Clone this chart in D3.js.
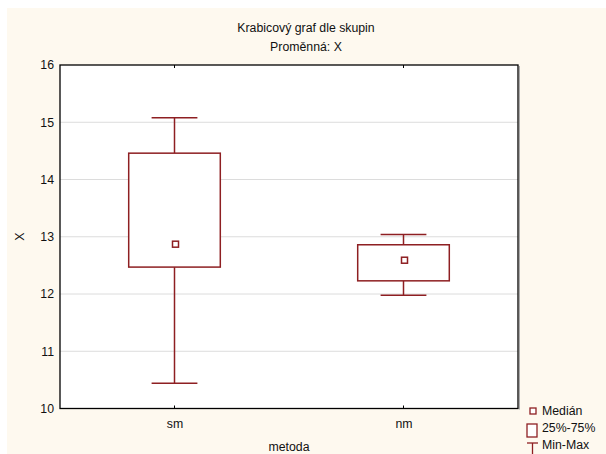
<!DOCTYPE html>
<html><head><meta charset="utf-8">
<script src="https://cdn.jsdelivr.net/npm/d3@7"></script>
<style>body{margin:0;background:#fff;}svg{display:block;font-family:"Liberation Sans",Arial,sans-serif;}</style>
</head><body>
<script>
const categories = ["sm", "nm"];
const mins    = [10.44, 11.98];
const q1s     = [12.47, 12.23];
const medians = [12.87, 12.59];
const q3s     = [14.46, 12.86];
const maxs    = [15.08, 13.04];
const yTicks  = [10, 11, 12, 13, 14, 15, 16];
const title = "Krabicový graf dle skupin";
const subtitle = "Proměnná: X";
const xLabel = "metoda";
const yLabel = "X";
const legendLabels = ["Medián", "25%-75%", "Min-Max"];

const W = 606, H = 454;
const FS = 12.3;
const boxColor = "#8e1f22";
const svg = d3.select("body").append("svg").attr("width", W).attr("height", H);
svg.append("rect").attr("x", 7).attr("y", 8).attr("width", W - 7).attr("height", H - 8).attr("fill", "#fef9ef");

const L = 60, R = 518, T = 65, B = 408.5;
const x = d3.scalePoint().domain(categories).range([L, R]).padding(0.5);
const y = d3.scaleLinear().domain([10, 16]).range([B, T]);
const step = x.step();

svg.append("rect").attr("x", L).attr("y", T).attr("width", R - L).attr("height", B - T).attr("fill", "#fff");

// gridlines
svg.append("g").selectAll("line").data(yTicks.filter(d => d > 10 && d < 16)).join("line")
  .attr("x1", L).attr("x2", R).attr("y1", d => y(d)).attr("y2", d => y(d))
  .attr("stroke", "#dcdcdc").attr("stroke-width", 1);

// y axis labels
const yAxis = d3.axisLeft(y).tickValues(yTicks).tickSize(0).tickPadding(6).tickFormat(d3.format("d"));
const gy = svg.append("g").attr("transform", `translate(${L},0)`).call(yAxis);
gy.select(".domain").remove();
gy.selectAll("text").attr("font-size", FS).attr("fill", "#111").style("font-family", "Liberation Sans, Arial, sans-serif");

// x axis labels
const xAxis = d3.axisBottom(x).tickSize(0).tickPadding(11);
const gx = svg.append("g").attr("transform", `translate(0,${B})`).call(xAxis);
gx.select(".domain").remove();
gx.selectAll("text").attr("font-size", FS).attr("fill", "#111").style("font-family", "Liberation Sans, Arial, sans-serif");

// tick marks top/bottom
categories.forEach(c => {
  svg.append("line").attr("x1", x(c)).attr("x2", x(c)).attr("y1", T).attr("y2", T + 3).attr("stroke", "#000");
  svg.append("line").attr("x1", x(c)).attr("x2", x(c)).attr("y1", B).attr("y2", B - 3).attr("stroke", "#000");
});

// boxes
const g = svg.append("g");
categories.forEach((c, i) => {
  const cx = x(c), bw = step * 0.4, cw = step * 0.2;
  g.append("line").attr("x1", cx).attr("x2", cx).attr("y1", y(maxs[i])).attr("y2", y(q3s[i])).attr("stroke", boxColor).attr("stroke-width", 1.5);
  g.append("line").attr("x1", cx).attr("x2", cx).attr("y1", y(q1s[i])).attr("y2", y(mins[i])).attr("stroke", boxColor).attr("stroke-width", 1.5);
  g.append("line").attr("x1", cx - cw / 2).attr("x2", cx + cw / 2).attr("y1", y(maxs[i])).attr("y2", y(maxs[i])).attr("stroke", boxColor).attr("stroke-width", 1.5);
  g.append("line").attr("x1", cx - cw / 2).attr("x2", cx + cw / 2).attr("y1", y(mins[i])).attr("y2", y(mins[i])).attr("stroke", boxColor).attr("stroke-width", 1.5);
  g.append("rect").attr("x", cx - bw / 2).attr("y", y(q3s[i])).attr("width", bw).attr("height", y(q1s[i]) - y(q3s[i]))
    .attr("fill", "#fff").attr("stroke", boxColor).attr("stroke-width", 1.5);
  g.append("rect").attr("x", cx + 1 - 3).attr("y", y(medians[i]) - 3).attr("width", 6).attr("height", 6)
    .attr("fill", "#fff").attr("stroke", boxColor).attr("stroke-width", 1.5);
});

// frame
svg.append("line").attr("x1", R + 1.5).attr("x2", R + 1.5).attr("y1", T + 1).attr("y2", B + 1).attr("stroke", "#aaa").attr("stroke-width", 1);
svg.append("rect").attr("x", L).attr("y", T).attr("width", R - L).attr("height", B - T).attr("fill", "none").attr("stroke", "#000").attr("stroke-width", 1.3);

// titles
svg.append("text").attr("x", 306).attr("y", 32).attr("text-anchor", "middle").attr("font-size", FS).attr("fill", "#111").text(title);
svg.append("text").attr("x", 306).attr("y", 51).attr("text-anchor", "middle").attr("font-size", FS).attr("fill", "#111").text(subtitle);
svg.append("text").attr("x", 289).attr("y", 451).attr("text-anchor", "middle").attr("font-size", FS).attr("fill", "#111").text(xLabel);
svg.append("text").attr("transform", `translate(24,${(T + B) / 2}) rotate(-90)`).attr("text-anchor", "middle").attr("font-size", FS).attr("fill", "#111").text(yLabel);

// legend
const lg = svg.append("g");
lg.append("rect").attr("x", 530).attr("y", 408).attr("width", 6).attr("height", 6).attr("fill", "#fff").attr("stroke", boxColor).attr("stroke-width", 1.3);
lg.append("rect").attr("x", 527).attr("y", 424).attr("width", 10).attr("height", 13).attr("fill", "#fff").attr("stroke", boxColor).attr("stroke-width", 1.3);
lg.append("line").attr("x1", 527).attr("x2", 538).attr("y1", 443).attr("y2", 443).attr("stroke", boxColor).attr("stroke-width", 1.3);
lg.append("line").attr("x1", 532.5).attr("x2", 532.5).attr("y1", 443).attr("y2", 454).attr("stroke", boxColor).attr("stroke-width", 1.3);
legendLabels.forEach((t, i) => {
  lg.append("text").attr("x", 542).attr("y", 415 + i * 17).attr("font-size", FS).attr("fill", "#111").text(t);
});
</script>
</body></html>
